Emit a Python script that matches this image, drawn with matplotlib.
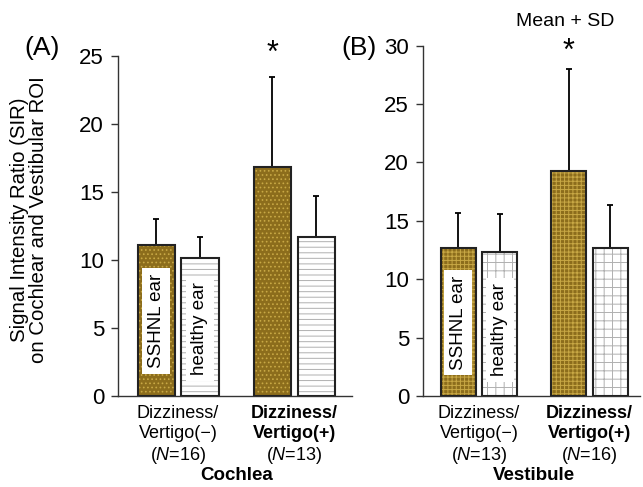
import numpy as np
import matplotlib
matplotlib.use('Agg')
import matplotlib.pyplot as plt
import matplotlib.transforms as mtransforms

plt.rcParams['font.family'] = ['Liberation Sans', 'DejaVu Sans']
plt.rcParams['mathtext.fontset'] = 'custom'
plt.rcParams['mathtext.it'] = 'Liberation Sans:italic'
plt.rcParams['mathtext.rm'] = 'Liberation Sans'
plt.rcParams['hatch.linewidth'] = 0.7

# ----------------------------------------------
# data (mean and SD)
group_line1 = ['Dizziness/', 'Dizziness/']
group_line2 = ['Vertigo(\u2212)', 'Vertigo(+)']
cochlea_n = [16, 13]
vestibule_n = [13, 16]

cochlea_sshnl = [11.1, 16.8]
cochlea_sshnl_sd = [1.9, 6.6]
cochlea_healthy = [10.1, 11.7]
cochlea_healthy_sd = [1.55, 2.95]

vestibule_sshnl = [12.7, 19.3]
vestibule_sshnl_sd = [3.0, 8.7]
vestibule_healthy = [12.3, 12.7]
vestibule_healthy_sd = [3.3, 3.7]

olive = '#8c6d1c'
olive_hatch = '#c8a845'
grey_hatch = '#b0b0b0'

W, H = 643, 487
fig = plt.figure(figsize=(W / 100, H / 100), dpi=100)


def px_axes(x0, x1, y0, y1):
    return fig.add_axes([x0 / W, 1 - y1 / H, (x1 - x0) / W, (y1 - y0) / H])


def draw_bar(ax, x, h, sd, face, hatch, hcolor, width):
    ax.bar(x, h, width, color=face, edgecolor='none', zorder=2)
    ax.bar(x, h, width, fill=False, hatch=hatch, edgecolor=hcolor, linewidth=0, zorder=3)
    ax.bar(x, h, width, fill=False, edgecolor='#222222', linewidth=1.5, zorder=4)
    ax.errorbar(x, h, yerr=[[0], [sd]], fmt='none', ecolor='black',
                elinewidth=1.3, capsize=2.5, capthick=1.3, zorder=1)


def panel(ax, sshnl, sshnl_sd, healthy, healthy_sd, ns, ymax, xlim,
          olive_h, healthy_h, title, tag, tag_x, label_y, star_off):
    width = 0.32
    off = 0.188
    for i in range(2):
        draw_bar(ax, i - off, sshnl[i], sshnl_sd[i], olive, olive_h, olive_hatch, width)
        draw_bar(ax, i + off, healthy[i], healthy_sd[i], 'white', healthy_h, grey_hatch, width)
    ax.set_xlim(*xlim)
    ax.set_ylim(0, ymax)
    ax.set_yticks(np.arange(0, ymax + 1, 5))
    ax.set_xticks([])
    for s in ['top', 'right']:
        ax.spines[s].set_visible(False)
    for s in ['left', 'bottom']:
        ax.spines[s].set_color('#333333')
        ax.spines[s].set_linewidth(1.0)
    ax.tick_params(axis='y', direction='out', length=5, width=1.0,
                   color='#333333', labelsize=16, pad=5)

    # labels inside the bars
    ax.text(-off, label_y[0], 'SSHNL ear', rotation=90, ha='center', va='center',
            fontsize=13.5, zorder=6,
            bbox=dict(boxstyle='square,pad=0.3', fc='white', ec='none'))
    ax.text(off, label_y[1], 'healthy ear', rotation=90, ha='center', va='center',
            fontsize=13.5, zorder=6,
            bbox=dict(boxstyle='square,pad=0.3', fc='white', ec='none'))

    # significance mark
    ax.annotate('*', xy=(1 - off, sshnl[1] + sshnl_sd[1]), xytext=(0, star_off),
                textcoords='offset points', ha='center', va='center', fontsize=22)

    # category labels under the axis
    tr = mtransforms.blended_transform_factory(ax.transData, fig.transFigure)
    for i in range(2):
        fw = 'bold' if i == 1 else 'normal'
        ax.text(i, 1 - 413 / H, group_line1[i], transform=tr, ha='center',
                va='center', fontsize=13, fontweight=fw)
        ax.text(i, 1 - 434 / H, group_line2[i], transform=tr, ha='center',
                va='center', fontsize=13, fontweight=fw)
        ax.text(i, 1 - 455 / H, r'($\mathit{N}$=%d)' % ns[i], transform=tr,
                ha='center', va='center', fontsize=13)
    ax.text(0.5, 1 - 476 / H, title, transform=tr, ha='center', va='center',
            fontsize=13.5, fontweight='bold')
    fig.text(tag_x / W, 1 - 48 / H, tag, ha='center', va='center', fontsize=19)


ax1 = px_axes(118, 352, 55.7, 395.7)
panel(ax1, cochlea_sshnl, cochlea_sshnl_sd, cochlea_healthy, cochlea_healthy_sd,
      cochlea_n, 25, (-0.517, 1.497), '....', '---', 'Cochlea', '(A)', 42,
      (5.5, 4.9), 17)

ax2 = px_axes(423, 640, 45.7, 396)
panel(ax2, vestibule_sshnl, vestibule_sshnl_sd, vestibule_healthy, vestibule_healthy_sd,
      vestibule_n, 30, (-0.507, 1.457), '++++', '++', 'Vestibule', '(B)', 359,
      (6.3, 5.65), 12)

fig.text(29 / W, 1 - 220 / H,
         'Signal Intensity Ratio (SIR)\non Cochlear and Vestibular ROI',
         rotation=90, ha='center', va='center', fontsize=14.7, linespacing=1.0)
fig.text(565 / W, 1 - 21 / H, 'Mean + SD', ha='center', va='center', fontsize=14)

fig.savefig('out.png', dpi=100)
